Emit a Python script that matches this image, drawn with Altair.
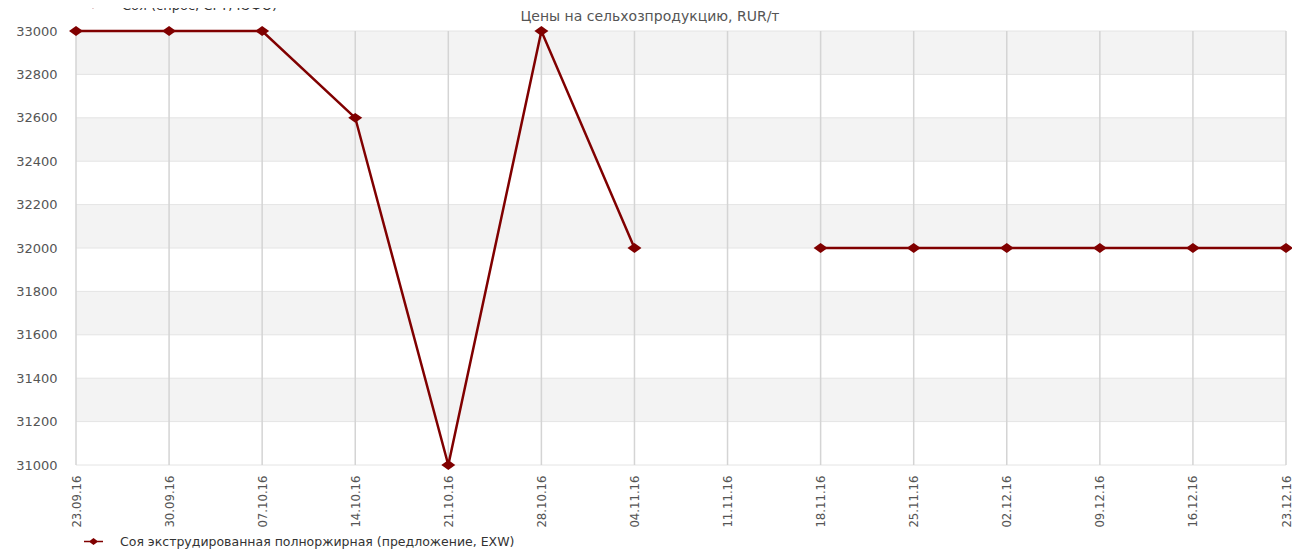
import altair as alt
import pandas as pd

# ---- data ----
dates = ["23.09.16", "30.09.16", "07.10.16", "14.10.16", "21.10.16", "28.10.16",
         "04.11.16", "11.11.16", "18.11.16", "25.11.16", "02.12.16", "09.12.16",
         "16.12.16", "23.12.16"]
prices = [33000, 33000, 33000, 32600, 31000, 33000,
          32000, None, 32000, 32000, 32000, 32000,
          32000, 32000]
series_main = "Соя экструдированная полноржирная (предложение, EXW)"
series_top = "Соя (спрос, CPT, ЮФО)"
title_text = "Цены на сельхозпродукцию, RUR/т"
y_ticks = [31000, 31200, 31400, 31600, 31800, 32000, 32200, 32400, 32600, 32800, 33000]
band_lo = [31200, 31600, 32000, 32400, 32800]
band_hi = [31400, 31800, 32200, 32600, 33000]

W, H = 1210, 434
RED = "#800000"
TXT = "#555555"

df = pd.DataFrame({"date": dates, "price": prices, "series": [series_main] * len(dates)})
bands = pd.DataFrame({"lo": band_lo, "hi": band_hi})
ticks = pd.DataFrame({"t": y_ticks})
grid_x = pd.DataFrame({"date": dates})
legend_top = pd.DataFrame({"name": [series_top]})
title_df = pd.DataFrame({"name": [title_text]})

xscale = alt.Scale(type="point", domain=dates, padding=0)
yscale = alt.Scale(domain=[31000, 33000], nice=False, zero=False)

x_axis = alt.Axis(title=None, labelAngle=270, labelAlign="right", labelBaseline="middle",
                  labelPadding=10, labelFont="DejaVu Sans Condensed, Liberation Sans Narrow, sans-serif",
                  labelFontSize=13, labelColor=TXT, ticks=False, domain=False, grid=False,
                  labelOverlap=False, labelBound=False)
y_axis = alt.Axis(title=None, values=y_ticks, labelFont="DejaVu Sans", labelFontSize=13,
                  labelColor=TXT, labelPadding=19, ticks=False, domain=False, grid=False,
                  format="d")

band_layer = alt.Chart(bands).mark_rect(color="#f3f3f3").encode(
    x=alt.value(0), x2=alt.value(W),
    y=alt.Y("lo:Q", scale=yscale, axis=y_axis), y2="hi:Q")

hgrid = alt.Chart(ticks).mark_rule(color="#e4e4e4", strokeWidth=1).encode(
    y=alt.Y("t:Q", scale=yscale))

vgrid = alt.Chart(grid_x).mark_rule(color="#d4d4d4", strokeWidth=1.5).encode(
    x=alt.X("date:N", scale=xscale, axis=x_axis, sort=dates))

legend_sym = "M-1,0L1,0M-0.37,0L0,-0.27L0.37,0L0,0.27Z"

line = alt.Chart(df).mark_line(strokeWidth=2.5, invalid="break-paths-show-domains").encode(
    x=alt.X("date:N", scale=xscale, sort=dates),
    y=alt.Y("price:Q", scale=yscale),
    color=alt.Color("series:N", scale=alt.Scale(range=[RED]),
                    legend=alt.Legend(title=None, orient="none", legendX=7, legendY=500,
                                      symbolType=legend_sym, symbolSize=361,
                                      symbolStrokeWidth=1.5, symbolFillColor=RED,
                                      symbolStrokeColor=RED, labelOffset=16,
                                      labelFont="DejaVu Sans", labelFontSize=12.5,
                                      labelColor="#333333", labelLimit=800)))

pts = alt.Chart(df).mark_point(shape="M-1,0L0,-0.7L1,0L0,0.7Z", size=196, filled=True,
                               opacity=1, color=RED).encode(
    x=alt.X("date:N", scale=xscale, sort=dates),
    y=alt.Y("price:Q", scale=yscale))

top_text = alt.Chart(legend_top).mark_text(align="left", baseline="alphabetic",
                                           font="DejaVu Sans", fontSize=13,
                                           color="#333333").encode(
    x=alt.value(46), y=alt.value(-21), text="name:N")
top_sym = alt.Chart(legend_top).mark_point(shape=legend_sym, size=361, filled=True,
                                           strokeWidth=1.5, color=RED, opacity=1).encode(
    x=alt.value(17), y=alt.value(-25))

title_mark = alt.Chart(title_df).mark_text(align="center", baseline="alphabetic",
                                           font="DejaVu Sans", fontSize=14,
                                           color=TXT).encode(
    x=alt.value(574), y=alt.value(-10), text="name:N")

chart = alt.layer(band_layer, hgrid, vgrid, line, pts, top_sym, top_text, title_mark).properties(
    width=W, height=H,
    autosize=alt.AutoSizeParams(type="none"),
    padding={"left": 68, "top": 23, "right": 6, "bottom": 84},
).configure_view(stroke=None)

chart.save("out.html", embed_options={"renderer": "svg", "actions": False})
